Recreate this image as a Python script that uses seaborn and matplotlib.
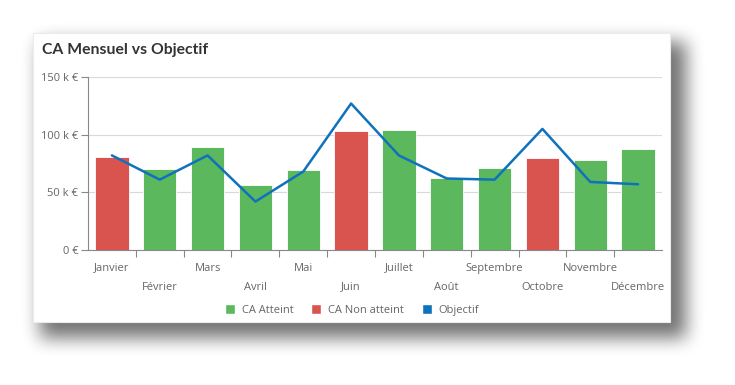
import numpy as np
import pandas as pd
import matplotlib.pyplot as plt
import matplotlib.transforms as mtransforms
import seaborn as sns
from matplotlib.patches import Patch

# ---------------- DATA ----------------
mois = ["Janvier", "Février", "Mars", "Avril", "Mai", "Juin",
        "Juillet", "Août", "Septembre", "Octobre", "Novembre", "Décembre"]
ca = [81, 70, 89, 56, 69, 103, 104, 62, 71, 80, 78, 88]
objectif = [82, 61, 82, 42, 68, 127, 82, 62, 61, 105, 59, 57]

y_ticks = [0, 50, 100, 150]
y_labels = ["0 €", "50 k €", "100 k €", "150 k €"]

VERT = "#5cb85c"
ROUGE = "#d9534f"
BLEU = "#0e72bd"

df = pd.DataFrame({"mois": mois, "ca": ca, "objectif": objectif})
df["statut"] = np.where(df["ca"] >= df["objectif"], "CA Atteint", "CA Non atteint")

# ---------------- FIGURE ----------------
sns.set_style("white")
plt.rcParams["font.family"] = ["Open Sans", "DejaVu Sans"]

W, H = 735, 385
fig = plt.figure(figsize=(W / 100, H / 100), dpi=100)
fig.patch.set_facecolor("white")


def box_blur(a, r, axis):
    pad = [(0, 0), (0, 0)]
    pad[axis] = (r + 1, r)
    c = np.cumsum(np.pad(a, pad, mode="edge"), axis=axis)
    if axis == 0:
        return (c[2 * r + 1:] - c[:-2 * r - 1]) / (2 * r + 1)
    return (c[:, 2 * r + 1:] - c[:, :-2 * r - 1]) / (2 * r + 1)


# soft drop shadow behind the card (pixel space, top = row 0)
shadow = np.zeros((H, W))
shadow[42:338, 40:686] = 1.0
for _ in range(3):
    shadow = box_blur(shadow, 8, 0)
    shadow = box_blur(shadow, 8, 1)
bg = fig.add_axes([0, 0, 1, 1], zorder=-5)
bg.imshow(1 - 0.55 * shadow, cmap="gray", vmin=0, vmax=1,
          extent=(0, W, H, 0), interpolation="bilinear", aspect="auto")
bg.set_xlim(0, W)
bg.set_ylim(H, 0)
bg.axis("off")
bg.add_patch(plt.Rectangle((33, 33), 637, 289, facecolor="white",
                           edgecolor="#ececec", linewidth=0.8))

ax = fig.add_axes([88 / W, 1 - 250 / H, (662 - 88) / W, 173 / H])
ax.set_facecolor("none")
ax.set_zorder(2)

# ---------------- BARS ----------------
sns.barplot(data=df, x="mois", y="ca", hue="statut",
            palette={"CA Atteint": VERT, "CA Non atteint": ROUGE},
            dodge=False, width=0.7, saturation=1, legend=False,
            edgecolor="white", linewidth=0.6, ax=ax, zorder=2)

# ---------------- LINE ----------------
sns.lineplot(x=np.arange(len(mois)), y=df["objectif"], color=BLEU,
             linewidth=1.8, ax=ax, zorder=3)

# ---------------- AXES ----------------
ax.set_ylim(0, 150)
ax.set_xlim(-0.5, len(mois) - 0.5)
ax.set_yticks(y_ticks)
ax.set_yticklabels(y_labels)
ax.yaxis.grid(True, color="#d9d9d9", linewidth=0.8)
ax.set_axisbelow(True)

ax.set_xticks(np.arange(len(mois)))
ax.set_xticklabels(mois)
ax.set_xticks(np.arange(len(mois) - 1) + 0.5, minor=True)
ax.tick_params(axis="x", which="major", length=0, pad=13,
               labelsize=8, labelcolor="#666666")
ax.tick_params(axis="x", which="minor", length=5, width=0.8,
               color="#888888", direction="out", bottom=True)
ax.tick_params(axis="y", length=5, width=0.8, color="#888888",
               direction="out", left=True, labelsize=8, labelcolor="#666666", pad=2)

# staggered month labels: every second one on a lower row
shift = mtransforms.ScaledTranslation(0, -19 / 100, fig.dpi_scale_trans)
for i, lab in enumerate(ax.get_xticklabels()):
    lab.set_va("center")
    if i % 2 == 1:
        lab.set_transform(lab.get_transform() + shift)

for s in ["top", "right"]:
    ax.spines[s].set_visible(False)
for s in ["left", "bottom"]:
    ax.spines[s].set_color("#888888")
    ax.spines[s].set_linewidth(0.8)

ax.set_xlabel("")
ax.set_ylabel("")

# ---------------- TITLE ----------------
fig.text(42 / W, 1 - 50 / H, "CA Mensuel vs Objectif", fontsize=11.3, fontweight="bold",
         color="#333333", family=["Lato", "DejaVu Sans"], va="center", zorder=5)

# ---------------- LEGEND ----------------
handles = [Patch(facecolor=VERT, label="CA Atteint"),
           Patch(facecolor=ROUGE, label="CA Non atteint"),
           Patch(facecolor=BLEU, label="Objectif")]
leg = fig.legend(handles=handles, loc="center", bbox_to_anchor=(352 / W, 1 - 310 / H),
                 ncol=3, frameon=False, fontsize=8, handlelength=0.9,
                 handleheight=0.9, handletextpad=0.6, columnspacing=1.6)
for t in leg.get_texts():
    t.set_color("#666666")

fig.savefig("out.png", dpi=100)
